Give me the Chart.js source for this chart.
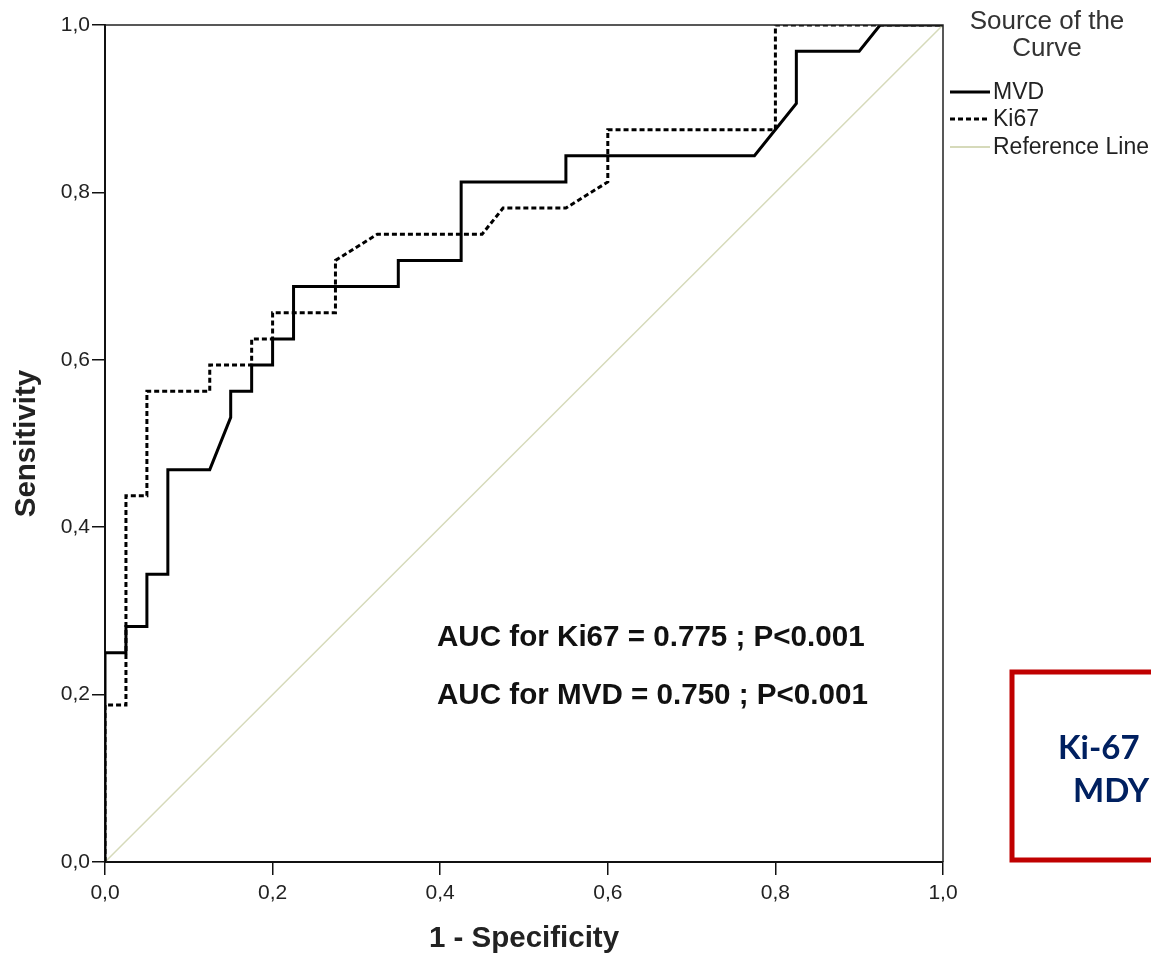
<!DOCTYPE html>
<html>
<head>
<meta charset="utf-8">
<script src="https://cdn.jsdelivr.net/npm/chart.js@4"></script>
<style>
  body { margin: 0; background: #fff; }
  #wrap { position: relative; width: 1151px; height: 959px; }
</style>
</head>
<body>
<div id="wrap"><canvas id="rocChart"></canvas></div>
<script>
// ROC curve points (1 - specificity, sensitivity)
const mvdFpr = [0, 0, 0.025, 0.025, 0.05, 0.05, 0.075, 0.075, 0.125, 0.15, 0.15, 0.175, 0.175, 0.2, 0.2, 0.225, 0.225, 0.35, 0.35, 0.425, 0.425, 0.55, 0.55, 0.775, 0.825, 0.825, 0.9, 0.925, 1];
const mvdTpr = [0, 0.25, 0.25, 0.28125, 0.28125, 0.34375, 0.34375, 0.46875, 0.46875, 0.53125, 0.5625, 0.5625, 0.59375, 0.59375, 0.625, 0.625, 0.6875, 0.6875, 0.71875, 0.71875, 0.8125, 0.8125, 0.84375, 0.84375, 0.90625, 0.96875, 0.96875, 1, 1];
const ki67Fpr = [0, 0, 0.025, 0.025, 0.05, 0.05, 0.125, 0.125, 0.175, 0.175, 0.2, 0.2, 0.275, 0.275, 0.325, 0.45, 0.475, 0.55, 0.6, 0.6, 0.8, 0.8, 1];
const ki67Tpr = [0, 0.1875, 0.1875, 0.4375, 0.4375, 0.5625, 0.5625, 0.59375, 0.59375, 0.625, 0.625, 0.65625, 0.65625, 0.71875, 0.75, 0.75, 0.78125, 0.78125, 0.8125, 0.875, 0.875, 1, 1];
const refX = [0, 1];
const refY = [0, 1];

const seriesNames = ['MVD', 'Ki67', 'Reference Line'];
const aucLines = ['AUC for Ki67 = 0.775 ; P<0.001', 'AUC for MVD = 0.750 ; P<0.001'];
const boxLines = ['Ki-67', 'MDY'];

const toPoints = (xs, ys) => xs.map((x, i) => ({ x: x, y: ys[i] }));
const fmt = v => v.toFixed(1).replace('.', ',');

const refColor = 'rgb(214, 218, 186)';

const extras = {
    id: 'extras',
    afterDraw(chart) {
        const ctx = chart.ctx;
        const a = chart.chartArea;
        ctx.save();
        // box round the plot (top and right sides)
        ctx.strokeStyle = '#222';
        ctx.lineWidth = 1.5;
        ctx.beginPath();
        ctx.moveTo(a.left, a.top);
        ctx.lineTo(a.right, a.top);
        ctx.lineTo(a.right, a.bottom);
        ctx.stroke();

        // legend
        ctx.fillStyle = '#333';
        ctx.font = '26px Arial';
        ctx.textAlign = 'center';
        ctx.textBaseline = 'middle';
        ctx.fillText('Source of the', 1047, 22);
        ctx.fillText('Curve', 1047, 49);
        ctx.font = '23px Arial';
        ctx.textAlign = 'left';
        ctx.fillStyle = '#222';
        const rows = [92, 119, 147];
        const styles = [
            { c: '#000', w: 3, d: [] },
            { c: '#000', w: 3, d: [5, 3] },
            { c: refColor, w: 2, d: [] }
        ];
        rows.forEach((y, i) => {
            ctx.strokeStyle = styles[i].c;
            ctx.lineWidth = styles[i].w;
            ctx.setLineDash(styles[i].d);
            ctx.beginPath();
            ctx.moveTo(950, y);
            ctx.lineTo(990, y);
            ctx.stroke();
            ctx.fillText(seriesNames[i], 993, y + 1);
        });
        ctx.setLineDash([]);

        // AUC notes
        ctx.fillStyle = '#111';
        ctx.font = 'bold 29.6px Arial';
        ctx.fillText(aucLines[0], 437, 638);
        ctx.fillText(aucLines[1], 437, 696);

        // red box on the right
        ctx.strokeStyle = '#c00000';
        ctx.lineWidth = 5;
        ctx.strokeRect(1012, 672, 200, 188);
        ctx.fillStyle = '#002060';
        ctx.font = 'bold 33px Lato';
        ctx.fillText(boxLines[0], 1058, 748);
        ctx.fillText(boxLines[1], 1073, 791);
        ctx.restore();
    }
};

const axisCommon = {
    type: 'linear',
    min: 0,
    max: 1,
    ticks: { stepSize: 0.2, callback: v => fmt(v), color: '#222', font: { family: 'Arial', size: 21 } },
    grid: { drawOnChartArea: false, drawTicks: true, tickLength: 13, color: '#111', lineWidth: 1.5 },
    border: { color: '#111', width: 2 }
};

const ctx = document.getElementById('rocChart').getContext('2d');
new Chart(ctx, {
    type: 'scatter',
    data: {
        datasets: [
            { label: seriesNames[0], data: toPoints(mvdFpr, mvdTpr), showLine: true, borderColor: '#000', borderWidth: 3, pointRadius: 0, tension: 0 },
            { label: seriesNames[1], data: toPoints(ki67Fpr, ki67Tpr), showLine: true, borderColor: '#000', borderWidth: 3, borderDash: [5, 3], pointRadius: 0, tension: 0 },
            { label: seriesNames[2], data: toPoints(refX, refY), showLine: true, borderColor: refColor, borderWidth: 1.5, pointRadius: 0 }
        ]
    },
    options: {
        responsive: true,
        maintainAspectRatio: false,
        animation: false,
        layout: { padding: { top: 25, right: 208, left: 0, bottom: 0 } },
        plugins: { legend: { display: false }, tooltip: { enabled: false } },
        scales: {
            x: Object.assign({}, axisCommon, {
                ticks: Object.assign({}, axisCommon.ticks, { padding: 6 }),
                title: { display: true, text: '1 - Specificity', color: '#222', font: { family: 'Arial', size: 29.5, weight: 'bold' }, padding: { top: 0, bottom: 2 } },
                afterFit: s => { s.height = 97; }
            }),
            y: Object.assign({}, axisCommon, {
                ticks: Object.assign({}, axisCommon.ticks, { padding: 2 }),
                title: { display: true, text: 'Sensitivity', color: '#222', font: { family: 'Arial', size: 29.5, weight: 'bold' }, padding: { top: 9, bottom: 0 } },
                afterFit: s => { s.width = 105; }
            })
        }
    },
    plugins: [extras]
});
</script>
</body>
</html>
